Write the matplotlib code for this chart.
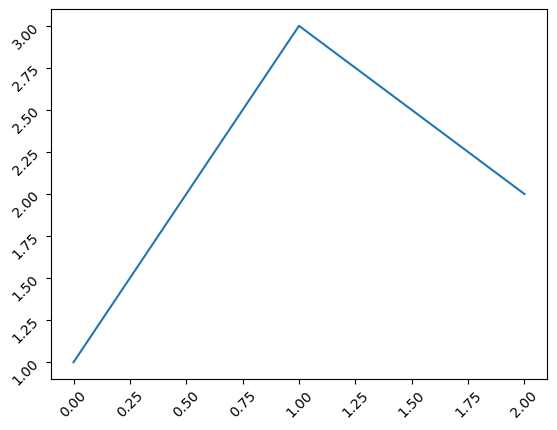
import matplotlib
matplotlib.use('Agg')
import matplotlib.pyplot as plt

# 数据
x_vals = [0, 1, 2]
y_vals = [1, 3, 2]

fig = plt.figure(figsize=(5.57, 4.30), dpi=100)
ax = fig.add_axes([51 / 557, 51 / 430, 496 / 557, 370 / 430])

ax.plot(x_vals, y_vals)

# 刻度标签旋转45度
ax.tick_params(axis='x', labelrotation=45)
ax.tick_params(axis='y', labelrotation=45)

fig.savefig('out.png', dpi=100)
